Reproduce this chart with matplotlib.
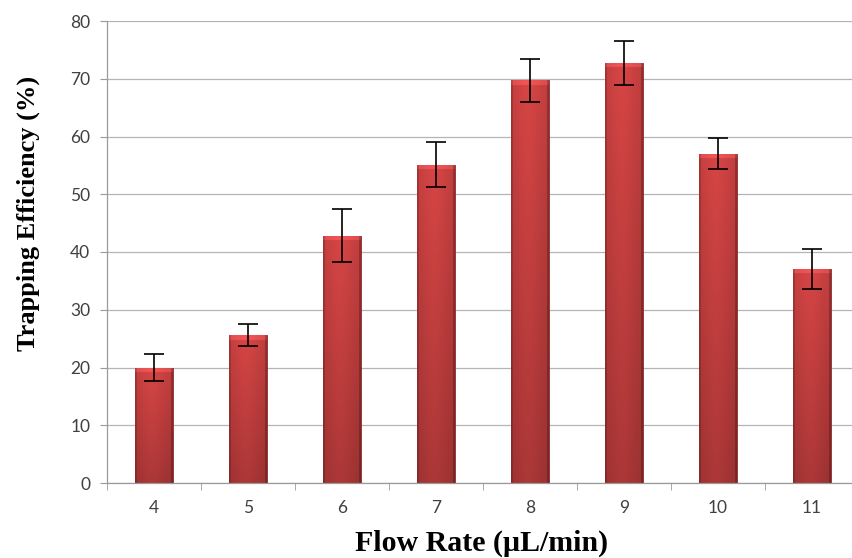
import numpy as np
import matplotlib
matplotlib.use("Agg")
import matplotlib.pyplot as plt
from matplotlib.ticker import FixedLocator

# data
flow_rates = ["4", "5", "6", "7", "8", "9", "10", "11"]
efficiency = [20.0, 25.6, 42.8, 55.1, 69.7, 72.8, 57.0, 37.1]
errors = [2.3, 1.9, 4.6, 3.9, 3.8, 3.8, 2.7, 3.5]

W, H, DPI = 852, 558, 100
fig = plt.figure(figsize=(W / DPI, H / DPI), dpi=DPI)
ax = fig.add_axes([107 / W, 75 / H, 752 / W, 462 / H])

x = np.arange(len(flow_rates))
bar_width = 0.4
bars = ax.bar(x, efficiency, width=bar_width, color="#c23a3a",
              edgecolor="#8f2a2a", linewidth=0.6, zorder=2)

ax.set_xlim(-0.5, len(flow_rates) - 0.5)
ax.set_ylim(0, 80)

# shaded fill for each bar (soft cylinder-like look)
px_per_unit = (462 / 80)
base = np.array([0.84, 0.27, 0.27])
for rect, val in zip(bars, efficiency):
    nrows = max(int(val * px_per_unit), 4)
    ncols = 40
    u = np.linspace(0, 1, ncols)
    horiz = 0.90 + 0.10 * np.exp(-((u - 0.45) / 0.35) ** 2)
    horiz[:2] *= 0.82
    horiz[-2:] *= 0.75
    v = np.linspace(0, 1, nrows)  # 0 = top, 1 = bottom
    vert = 1.0 - 0.2 * v
    img = base[None, None, :] * (vert[:, None, None] * horiz[None, :, None])
    # lighter bevel at the top
    bev = min(5, nrows)
    img[:bev] = np.clip(img[:bev] * 1.08 + 0.04, 0, 1)
    img = np.clip(img, 0, 1)
    bx, by = rect.get_x(), rect.get_y()
    im = ax.imshow(img, extent=(bx, bx + rect.get_width(), by, by + rect.get_height()),
                   aspect="auto", interpolation="bilinear", zorder=2.5)
    im.set_clip_path(rect)

ax.errorbar(x, efficiency, yerr=errors, fmt="none", ecolor="black",
            elinewidth=1.2, capsize=7, capthick=1.2, zorder=3)

# grid and spines
ax.set_yticks(np.arange(0, 81, 10))
ax.yaxis.grid(True, color="#b4b4b4", linewidth=0.9, zorder=0)
ax.set_axisbelow(True)
for side in ["top", "right"]:
    ax.spines[side].set_visible(False)
for side in ["left", "bottom"]:
    ax.spines[side].set_color("#9a9a9a")
    ax.spines[side].set_linewidth(0.9)

tick_font = ["Lato", "DejaVu Sans"]
ax.set_xticks(x)
ax.set_xticklabels(flow_rates, family=tick_font, fontsize=12.5, color="#404040")
ax.xaxis.set_minor_locator(FixedLocator(np.arange(-0.5, len(flow_rates), 1.0)))
ax.tick_params(axis="x", which="major", length=0, pad=12)
ax.tick_params(axis="x", which="minor", length=5, color="#9a9a9a", direction="out")
ax.tick_params(axis="y", length=5, color="#9a9a9a", pad=7, labelcolor="#404040")
for lab in ax.get_yticklabels():
    lab.set_family(tick_font)
    lab.set_fontsize(12.5)

serif = ["Liberation Serif", "DejaVu Serif"]
fig.text(482 / W, 1 - 543 / H, "Flow Rate (\u00b5L/min)", ha="center", va="center",
         family=serif, fontsize=21.5, fontweight="bold")
fig.text(28 / W, 1 - 213 / H, "Trapping Efficiency (%)", ha="center", va="center",
         rotation=90, family=serif, fontsize=19, fontweight="bold")

fig.savefig("out.png", dpi=DPI)
